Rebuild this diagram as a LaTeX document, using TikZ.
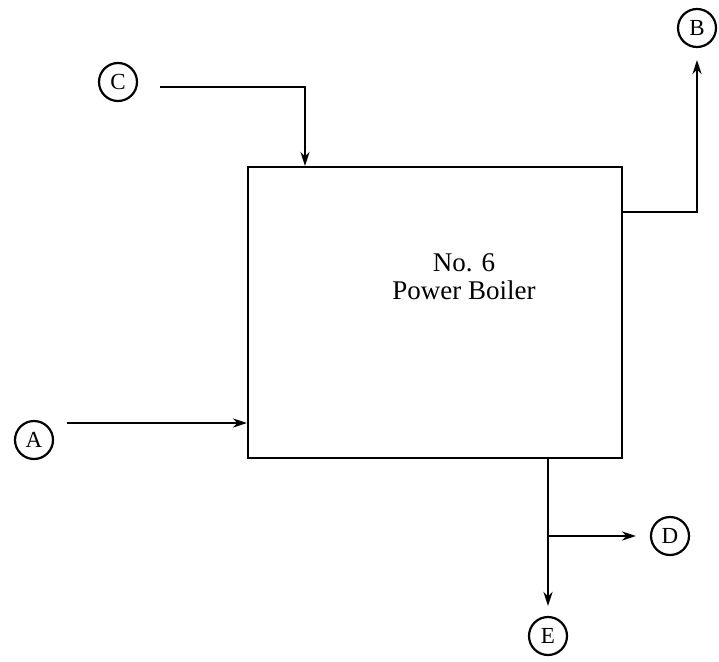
\documentclass[tikz,border=0pt]{standalone}
\usepackage{fontspec}
\setmainfont{Liberation Serif}
\usetikzlibrary{arrows.meta}
\begin{document}
\begin{tikzpicture}[x=1pt,y=-1pt,
  stream/.style={circle,draw,line width=2.2pt,minimum size=38pt,inner sep=0pt,font=\fontsize{23}{23}\selectfont},
  flow/.style={line width=2.4pt,-{Stealth[length=14pt,width=9pt]}},
  pipe/.style={line width=2.4pt}]
\useasboundingbox (0,0) rectangle (719,661);
\node[draw,line width=2.4pt,minimum width=374pt,minimum height=291pt,inner sep=0pt,anchor=north west] (boiler) at (247,166) {};
\node[align=center,font=\fontsize{27}{28}\selectfont] (lbl) at (464,277) {No. 6\\Power Boiler};
\node[stream] (A) at (34,440) {A};
\node[stream] (B) at (697,28) {B};
\node[stream] (C) at (118,82) {C};
\node[stream] (D) at (670,536) {D};
\node[stream] (E) at (548,636) {E};
\coordinate (cs) at (160,87);
\coordinate (bt) at (305,166);
\draw[flow] (cs) -| (bt);
\coordinate (as) at (67,423);
\draw[flow] (as) -- (as -| boiler.west);
\coordinate (bs) at (621,212);
\coordinate (be) at (697,60);
\draw[flow] (bs) -| (be);
\coordinate (es) at (548,457);
\coordinate (ee) at (548,606);
\draw[flow] (es) -- (ee);
\coordinate (dj) at (548,536);
\coordinate (de) at (636,536);
\draw[flow] (dj) -- (de);
\end{tikzpicture}
\end{document}
